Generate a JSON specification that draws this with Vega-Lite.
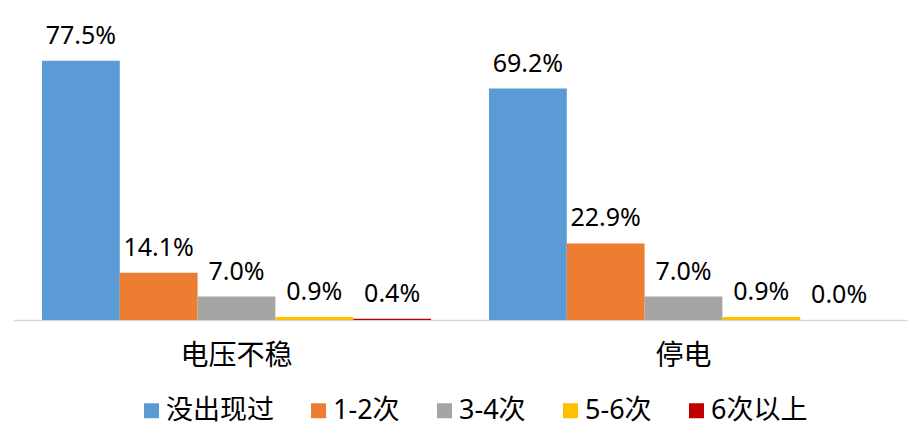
{
  "$schema": "https://vega.github.io/schema/vega-lite/v6.json",
  "width": 894,
  "height": 301,
  "autosize": "none",
  "padding": {"left": 13, "top": 19, "right": 15, "bottom": 122},
  "background": "white",
  "config": {
    "view": {"stroke": null},
    "font": "'Noto Sans', 'Noto Sans CJK SC', sans-serif"
  },
  "data": {
    "values": [
      {"cat": "电压不稳", "s": "没出现过", "v": 0.775},
      {"cat": "电压不稳", "s": "1-2次", "v": 0.141},
      {"cat": "电压不稳", "s": "3-4次", "v": 0.070},
      {"cat": "电压不稳", "s": "5-6次", "v": 0.009},
      {"cat": "电压不稳", "s": "6次以上", "v": 0.004},
      {"cat": "停电", "s": "没出现过", "v": 0.692},
      {"cat": "停电", "s": "1-2次", "v": 0.229},
      {"cat": "停电", "s": "3-4次", "v": 0.070},
      {"cat": "停电", "s": "5-6次", "v": 0.009},
      {"cat": "停电", "s": "6次以上", "v": 0.0}
    ]
  },
  "encoding": {
    "x": {
      "field": "cat", "type": "nominal", "sort": ["电压不稳", "停电"],
      "scale": {"paddingInner": 0, "paddingOuter": 0},
      "axis": {
        "title": null, "labelAngle": 0, "ticks": false,
        "domainColor": "#D9D9D9", "domainWidth": 1.5,
        "labelFontSize": 28, "labelColor": "#000000", "labelPadding": 22,
        "labelFont": "'Noto Sans CJK SC', sans-serif"
      }
    },
    "xOffset": {
      "field": "s", "type": "nominal",
      "sort": ["没出现过", "1-2次", "3-4次", "5-6次", "6次以上"],
      "scale": {"paddingInner": 0, "paddingOuter": 0.3725}
    },
    "y": {
      "field": "v", "type": "quantitative",
      "scale": {"domain": [0, 0.9], "nice": false},
      "axis": null
    }
  },
  "layer": [
    {
      "mark": {"type": "bar"},
      "encoding": {
        "color": {
          "field": "s", "type": "nominal",
          "sort": ["没出现过", "1-2次", "3-4次", "5-6次", "6次以上"],
          "scale": {
            "domain": ["没出现过", "1-2次", "3-4次", "5-6次", "6次以上"],
            "range": ["#5B9BD5", "#ED7D31", "#A5A5A5", "#FFC000", "#C00000"]
          },
          "legend": {
            "title": null, "orient": "none", "direction": "horizontal", "columns": 5,
            "legendX": 125, "legendY": 378,
            "symbolType": "square", "symbolSize": 225, "symbolStrokeWidth": 0,
            "labelFontSize": 27, "labelColor": "#000000", "labelOffset": 1,
            "columnPadding": 31, "padding": 0,
            "labelFont": "'Noto Sans', 'Noto Sans CJK SC', sans-serif"
          }
        }
      }
    },
    {
      "mark": {"type": "text", "fontSize": 25, "color": "#000000", "baseline": "alphabetic", "dy": -17, "font": "'Noto Sans', sans-serif"},
      "encoding": {
        "text": {"field": "v", "type": "quantitative", "format": ".1%"}
      }
    }
  ]
}
